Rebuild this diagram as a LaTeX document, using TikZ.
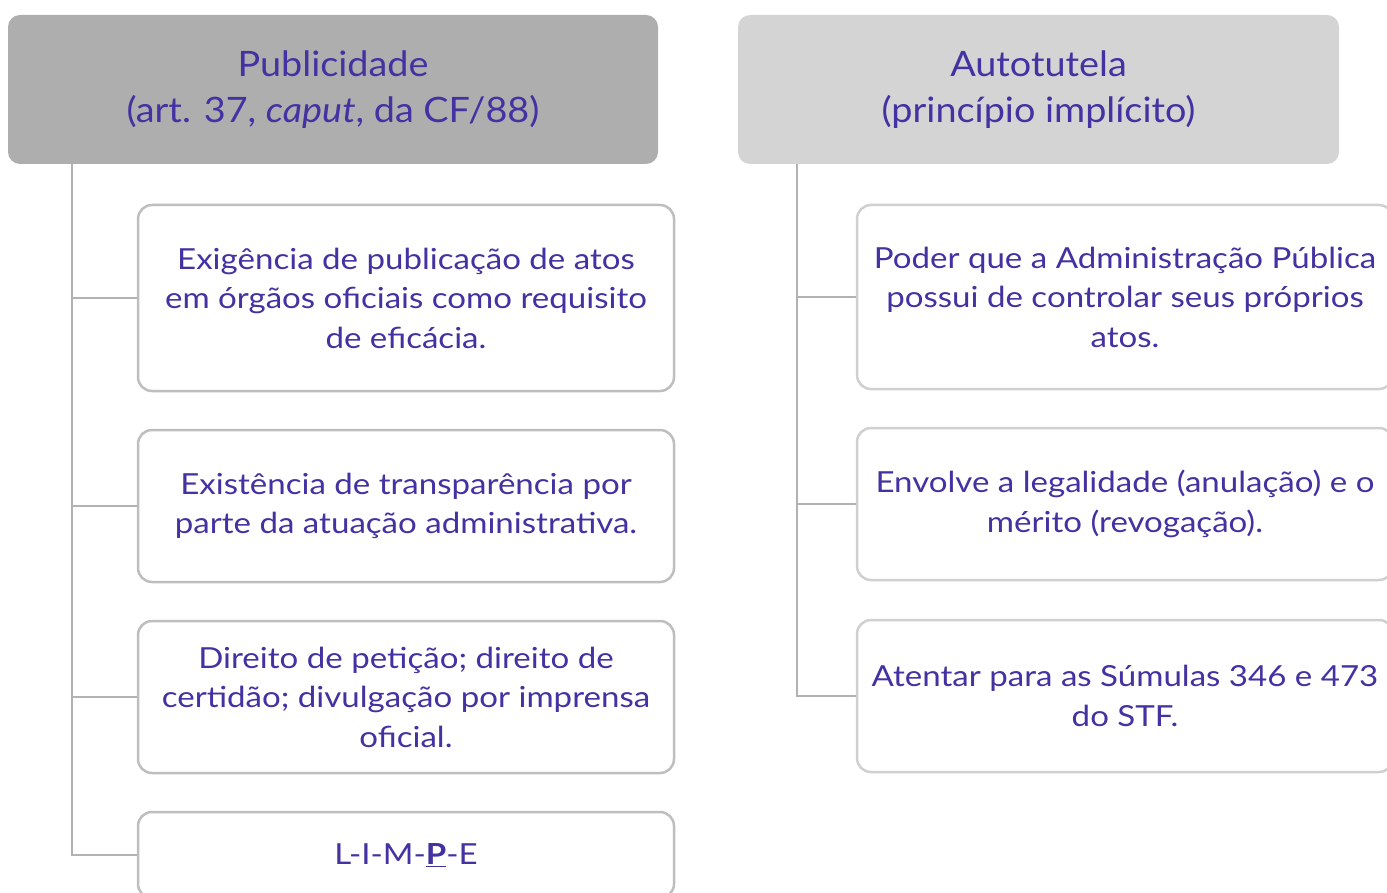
\documentclass[tikz,border=0pt]{standalone}
\usepackage{fontspec}
\setmainfont{Lato}[FakeStretch=1.14]
\newfontfamily\headfont[FakeStretch=1.08]{Lato}
\usetikzlibrary{calc}
\definecolor{txt}{RGB}{66,50,162}
\definecolor{hdA}{RGB}{174,174,174}
\definecolor{hdB}{RGB}{212,212,212}
\definecolor{bdA}{RGB}{190,190,190}
\definecolor{bdB}{RGB}{208,208,208}
\definecolor{lnA}{RGB}{178,178,178}
\begin{document}
\begin{tikzpicture}[x=1pt,y=-1pt,
  head/.style={rectangle,rounded corners=12pt,inner sep=0pt,text=txt,align=center,
    font=\headfont\fontsize{35}{46}\selectfont},
  item/.style={rectangle,rounded corners=14pt,draw,line width=2.5pt,fill=white,inner sep=0pt,
    text=txt,align=center,minimum width=536pt,font=\fontsize{29}{39.5}\selectfont},
  conn/.style={draw=lnA,line width=2.2pt}]
\clip (0,0) rectangle (1387,893);
\useasboundingbox (0,0) rectangle (1387,893);
% headers
\node[head,fill=hdA,minimum width=650pt,minimum height=149pt] (lh) at (333,89.5)
  {Publicidade\\(art. 37, \textit{caput}, da CF/88)};
\node[head,fill=hdB,minimum width=601pt,minimum height=149pt] (rh) at (1038.5,89.5)
  {Autotutela\\(princípio implícito)};
% left items
\node[item,draw=bdA,minimum height=186pt] (l1) at (406,298)
  {Exigência de publicação de atos\\em órgãos oficiais como requisito\\de eficácia.};
\node[item,draw=bdA,minimum height=152pt] (l2) at (406,506)
  {Existência de transparência por\\parte da atuação administrativa.};
\node[item,draw=bdA,minimum height=152pt] (l3) at (406,697)
  {Direito de petição; direito de\\certidão; divulgação por imprensa\\oficial.};
\node[item,draw=bdA,minimum height=86pt] (l4) at (406,855)
  {L-I-M-\underline{\textbf{P}}-E};
% right items
\node[item,draw=bdB,minimum height=184pt] (r1) at (1125,297)
  {Poder que a Administração Pública\\possui de controlar seus próprios\\atos.};
\node[item,draw=bdB,minimum height=152pt] (r2) at (1125,504)
  {Envolve a legalidade (anulação) e o\\mérito (revogação).};
\node[item,draw=bdB,minimum height=152pt] (r3) at (1125,696)
  {Atentar para as Súmulas 346 e 473\\do STF.};
% trunks
\coordinate (lt) at ($(lh.south west)+(64,0)$);
\coordinate (rt) at ($(rh.south west)+(59,0)$);
\draw[conn] (lt) |- (l4.west);
\draw[conn] (lt |- l1.west) -- (l1.west);
\draw[conn] (lt |- l2.west) -- (l2.west);
\draw[conn] (lt |- l3.west) -- (l3.west);
\draw[conn] (rt) |- (r3.west);
\draw[conn] (rt |- r1.west) -- (r1.west);
\draw[conn] (rt |- r2.west) -- (r2.west);
\end{tikzpicture}
\end{document}
